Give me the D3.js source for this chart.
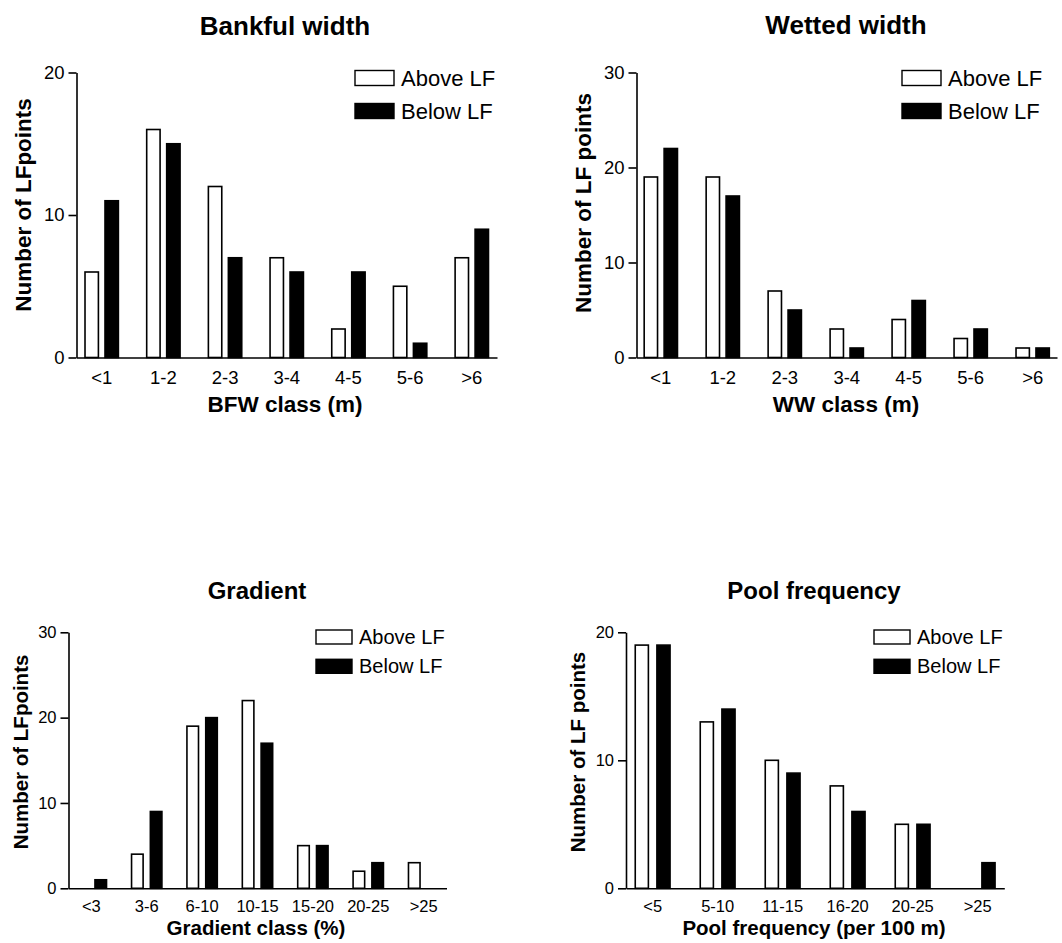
<!DOCTYPE html>
<html>
<head>
  <meta charset="UTF-8">
  <script src="https://d3js.org/d3.v7.min.js"></script>
  <style>
    body { margin: 0; background: #fff; }
    svg, svg text { font-family: "Liberation Sans", Arial, Helvetica, sans-serif; }
  </style>
</head>
<body>
  <svg width="1062" height="943" id="chart"></svg>

  <script>
    // data
    let seriesNames = ["Above LF", "Below LF"];

    let bfwClasses = ["<1", "1-2", "2-3", "3-4", "4-5", "5-6", ">6"];
    let bfwAbove = [6, 16, 12, 7, 2, 5, 7];
    let bfwBelow = [11, 15, 7, 6, 6, 1, 9];
    let bfwTicks = [0, 10, 20];

    let wwClasses = ["<1", "1-2", "2-3", "3-4", "4-5", "5-6", ">6"];
    let wwAbove = [19, 19, 7, 3, 4, 2, 1];
    let wwBelow = [22, 17, 5, 1, 6, 3, 1];
    let wwTicks = [0, 10, 20, 30];

    let gradClasses = ["<3", "3-6", "6-10", "10-15", "15-20", "20-25", ">25"];
    let gradAbove = [0, 4, 19, 22, 5, 2, 3];
    let gradBelow = [1, 9, 20, 17, 5, 3, 0];
    let gradTicks = [0, 10, 20, 30];

    let poolClasses = ["<5", "5-10", "11-15", "16-20", "20-25", ">25"];
    let poolAbove = [19, 13, 10, 8, 5, 0];
    let poolBelow = [19, 14, 9, 6, 5, 2];
    let poolTicks = [0, 10, 20];

    let svg = d3.select("#chart");

    function drawPanel(p) {
      let g = svg.append("g");

      let x = d3.scaleBand()
        .domain(p.classes)
        .range([p.x0, p.x1])
        .paddingInner(p.padIn)
        .paddingOuter(p.padOut);

      let xs = d3.scaleBand()
        .domain(seriesNames)
        .range([0, x.bandwidth()])
        .paddingInner(p.barGap);

      let y = d3.scaleLinear()
        .domain([0, d3.max(p.ticks)])
        .range([p.y0, p.y1]);

      let rows = p.classes.map((c, i) => ({ cls: c, vals: [p.above[i], p.below[i]] }));

      // bars
      let groups = g.selectAll(".grp")
        .data(rows)
        .enter()
        .append("g")
        .attr("transform", d => `translate(${x(d.cls)},0)`);

      groups.selectAll("rect")
        .data(d => d.vals.map((v, k) => ({ name: seriesNames[k], v: v })))
        .enter()
        .append("rect")
        .attr("x", d => xs(d.name) + 0.8)
        .attr("width", xs.bandwidth() - 1.6)
        .attr("y", d => y(d.v))
        .attr("height", d => y(0) - y(d.v))
        .attr("fill", d => d.name == seriesNames[0] ? "#fff" : "#000")
        .attr("stroke", d => d.v == 0 ? "#bbb" : "#000")
        .attr("stroke-width", 1.6);

      // y axis
      let yAxis = g.append("g")
        .attr("transform", `translate(${p.x0},0)`)
        .call(d3.axisLeft(y).tickValues(p.ticks).tickSize(8).tickSizeOuter(0).tickPadding(4));

      // x axis
      let xAxis = g.append("g")
        .attr("transform", `translate(0,${p.y0})`)
        .call(d3.axisBottom(x).tickSize(0).tickSizeOuter(0).tickPadding(p.xLabPad));

      [yAxis, xAxis].forEach(a => {
        a.attr("font-family", null).attr("font-size", null);
        a.selectAll("text")
          .style("font-family", '"Liberation Sans", Arial, sans-serif')
          .style("font-size", p.tickSize + "px")
          .attr("fill", "#000");
        a.selectAll(".domain, .tick line")
          .attr("stroke", "#000")
          .attr("stroke-width", 1.6);
      });

      // titles
      g.append("text")
        .attr("x", p.titleX)
        .attr("y", p.titleY)
        .attr("text-anchor", "middle")
        .attr("font-weight", "bold")
        .attr("font-size", p.titleSize)
        .text(p.title);

      g.append("text")
        .attr("x", p.xTitleX)
        .attr("y", p.xTitleY)
        .attr("text-anchor", "middle")
        .attr("font-weight", "bold")
        .attr("font-size", p.axisTitleSize)
        .text(p.xTitle);

      g.append("text")
        .attr("transform", `translate(${p.yTitleX},${p.yTitleY}) rotate(-90)`)
        .attr("text-anchor", "middle")
        .attr("font-weight", "bold")
        .attr("font-size", p.axisTitleSize)
        .text(p.yTitle);

      // legend
      seriesNames.forEach((s, k) => {
        let ly = p.legY + k * p.legStep;
        g.append("rect")
          .attr("x", p.legX)
          .attr("y", ly)
          .attr("width", p.legW)
          .attr("height", p.legH)
          .attr("fill", k == 0 ? "#fff" : "#000")
          .attr("stroke", "#000")
          .attr("stroke-width", 1.4);
        g.append("text")
          .attr("x", p.legX + p.legW + 7)
          .attr("y", ly + p.legH)
          .attr("font-size", p.legSize)
          .text(s);
      });
    }

    drawPanel({
      classes: bfwClasses, above: bfwAbove, below: bfwBelow, ticks: bfwTicks,
      x0: 76.5, x1: 497, y0: 357.5, y1: 72.5,
      padIn: 0.433, padOut: 0.125, barGap: 0.25,
      tickSize: 18.5, xLabPad: 13,
      title: "Bankful width", titleX: 285, titleY: 35, titleSize: 26,
      xTitle: "BFW class (m)", xTitleX: 285, xTitleY: 412,
      yTitle: "Number of LFpoints", yTitleX: 31, yTitleY: 205, axisTitleSize: 22.5,
      legX: 355, legY: 70.5, legStep: 33, legW: 39, legH: 15, legSize: 22
    });

    drawPanel({
      classes: wwClasses, above: wwAbove, below: wwBelow, ticks: wwTicks,
      x0: 636.5, x1: 1057, y0: 357.5, y1: 72.5,
      padIn: 0.437, padOut: 0.111, barGap: 0.25,
      tickSize: 18.5, xLabPad: 13,
      title: "Wetted width", titleX: 846, titleY: 34, titleSize: 26,
      xTitle: "WW class (m)", xTitleX: 846, xTitleY: 412,
      yTitle: "Number of LF points", yTitleX: 591, yTitleY: 203, axisTitleSize: 22.5,
      legX: 902, legY: 70.5, legStep: 33, legW: 39, legH: 15, legSize: 22
    });

    drawPanel({
      classes: gradClasses, above: gradAbove, below: gradBelow, ticks: gradTicks,
      x0: 68.5, x1: 446.5, y0: 888.3, y1: 632.3,
      padIn: 0.423, padOut: 0.124, barGap: 0.3,
      tickSize: 16.5, xLabPad: 12,
      title: "Gradient", titleX: 257, titleY: 599, titleSize: 24,
      xTitle: "Gradient class (%)", xTitleX: 256, xTitleY: 935,
      yTitle: "Number of LFpoints", yTitleX: 28, yTitleY: 752, axisTitleSize: 20.5,
      legX: 316, legY: 630, legStep: 29.3, legW: 36, legH: 14, legSize: 20
    });

    drawPanel({
      classes: poolClasses, above: poolAbove, below: poolBelow, ticks: poolTicks,
      x0: 626, x1: 1004.3, y0: 888.3, y1: 632.3,
      padIn: 0.44, padOut: 0.13, barGap: 0.32,
      tickSize: 16.5, xLabPad: 12,
      title: "Pool frequency", titleX: 814, titleY: 599, titleSize: 24,
      xTitle: "Pool frequency (per 100 m)", xTitleX: 814, xTitleY: 935,
      yTitle: "Number of LF points", yTitleX: 585, yTitleY: 752, axisTitleSize: 20.5,
      legX: 874, legY: 630, legStep: 29.3, legW: 36, legH: 14, legSize: 20
    });
  </script>
</body>
</html>
